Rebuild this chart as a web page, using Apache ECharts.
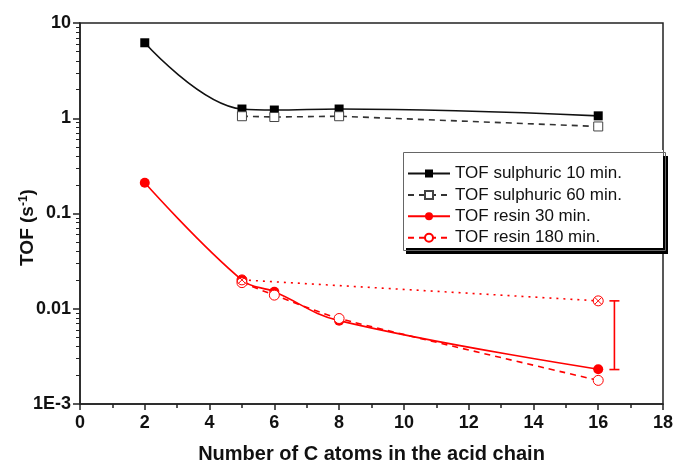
<!DOCTYPE html>
<html>
<head>
<meta charset="utf-8">
<script src="https://cdn.jsdelivr.net/npm/echarts@6/dist/echarts.min.js"></script>
<style>
  html, body { margin: 0; padding: 0; background: #fff; }
  #chart { width: 676px; height: 468px; }
</style>
</head>
<body>
<div id="chart"></div>
<script>
// 数据
var sulph10 = [[2, 6.2], [5, 1.25], [6, 1.22], [8, 1.25], [16, 1.06]];
var sulph60 = [[5, 1.05], [6, 1.03], [8, 1.05], [16, 0.82]];
var resin30 = [[2, 0.21], [5, 0.02], [6, 0.0151], [8, 0.0075], [16, 0.00232]];
var resin180 = [[5, 0.0188], [6, 0.0139], [8, 0.0079], [16, 0.00177]];
var dotted = [[5, 0.0201], [16, 0.0121]];
var errBar = [[16.5, 0.0023], [16.5, 0.0121]];
var yTickLabels = { 10: "10", 1: "1", 0.1: "0.1", 0.01: "0.01", 0.001: "1E-3" };

var myChart = echarts.init(document.getElementById("chart"));
var font = "Liberation Sans, Arial, sans-serif";
var crossCircle = "path://M0,10 A10,10 0 1,1 20,10 A10,10 0 1,1 0,10 Z M3,3 L17,17 M17,3 L3,17";

var option = {
  animation: false,
  grid: {
    left: 80, right: 13, top: 23, bottom: 64,
    outerBoundsMode: "none",
    containLabel: false,
    show: true, borderColor: "#222", borderWidth: 1.5
  },
  // 图例外框 + 阴影
  graphic: [
    {
      type: "rect", z: 3, left: 406, top: 156,
      shape: { width: 262, height: 98 },
      style: { fill: "#000" }
    },
    {
      type: "rect", z: 3, left: 401, top: 150,
      shape: { width: 262, height: 98 },
      style: { fill: "#fff" }
    },
    {
      type: "rect", z: 5, left: 401, top: 150,
      shape: { width: 262, height: 98 },
      style: { fill: null, stroke: "#666", lineWidth: 1 }
    }
  ],
  legend: {
    left: 401, top: 150, z: 4,
    orient: "vertical",
    itemWidth: 42, itemHeight: 10, itemGap: 4.4,
    padding: [15, 30, 4, 6],
    textStyle: { fontFamily: font, fontSize: 17, color: "#111" },
    data: ["TOF sulphuric 10 min.", "TOF sulphuric 60 min.", "TOF resin 30 min.", "TOF resin 180 min."]
  },
  xAxis: {
    type: "value", min: 0, max: 18, interval: 2,
    name: "Number of C atoms in the acid chain",
    nameLocation: "middle", nameGap: 40,
    nameTextStyle: { fontFamily: font, fontSize: 20, fontWeight: "bold", color: "#111" },
    axisLine: { lineStyle: { color: "#222", width: 1.5 } },
    axisTick: { length: 6, lineStyle: { color: "#222", width: 1.5 } },
    minorTick: { show: true, splitNumber: 2, length: 4, lineStyle: { color: "#222", width: 1.5 } },
    axisLabel: { fontFamily: font, fontSize: 18, fontWeight: "bold", color: "#111", margin: 10 },
    splitLine: { show: false }
  },
  yAxis: {
    type: "log", logBase: 10, min: 0.001, max: 10,
    name: "{b|TOF (s}{sup|-1}{b|)}",
    nameLocation: "middle", nameGap: 42, nameRotate: 90,
    nameMoveOverlap: false,
    nameTextStyle: {
      padding: [0, 0, 0, -28],
      rich: {
        b: { fontFamily: font, fontSize: 19, fontWeight: "bold", color: "#111" },
        sup: { fontFamily: font, fontSize: 12, fontWeight: "bold", color: "#111", verticalAlign: "top", padding: [0, 0, 8, 0] }
      }
    },
    axisLine: { show: true, lineStyle: { color: "#222", width: 1.5 } },
    axisTick: { length: 7, lineStyle: { color: "#222", width: 1.5 } },
    minorTick: { show: true, splitNumber: 9, length: 4, lineStyle: { color: "#222", width: 1 } },
    axisLabel: {
      fontFamily: font, fontSize: 18, fontWeight: "bold", color: "#111", margin: 9,
      formatter: function (v) {
        var k = Number(v.toPrecision(3));
        return yTickLabels[k] !== undefined ? yTickLabels[k] : "";
      }
    },
    splitLine: { show: false }
  },
  series: [
    {
      name: "TOF sulphuric 10 min.", type: "line", data: sulph10,
      smooth: 0.4, symbol: "rect", symbolSize: 9,
      itemStyle: { color: "#000" },
      lineStyle: { color: "#111", width: 1.6 }
    },
    {
      name: "TOF sulphuric 60 min.", type: "line", data: sulph60,
      symbol: "rect", symbolSize: 9,
      itemStyle: { color: "#fff", borderColor: "#444", borderWidth: 1 },
      lineStyle: { color: "#333", width: 1.6, type: [6, 5] }
    },
    {
      name: "TOF resin 30 min.", type: "line", data: resin30,
      smooth: 0.4, symbol: "circle", symbolSize: 10,
      itemStyle: { color: "#f00" },
      lineStyle: { color: "#f00", width: 1.6 }
    },
    {
      name: "TOF resin 180 min.", type: "line", data: resin180,
      smooth: 0.2, symbol: "circle", symbolSize: 10,
      itemStyle: { color: "#fff", borderColor: "#f00", borderWidth: 1 },
      lineStyle: { color: "#f00", width: 1.6, type: [6, 5] }
    },
    {
      name: "dotted", type: "line", data: dotted,
      symbol: crossCircle, symbolSize: 10,
      showSymbol: true,
      itemStyle: { color: "rgba(255,255,255,0)", borderColor: "#f00", borderWidth: 1 },
      lineStyle: { color: "#f00", width: 1.6, type: [2, 5] }
    },
    {
      name: "error", type: "line", data: errBar,
      symbol: "rect", symbolSize: [10, 1.6],
      itemStyle: { color: "#f00" },
      lineStyle: { color: "#f00", width: 1.6 }
    }
  ]
};
myChart.setOption(option);
</script>
</body>
</html>
